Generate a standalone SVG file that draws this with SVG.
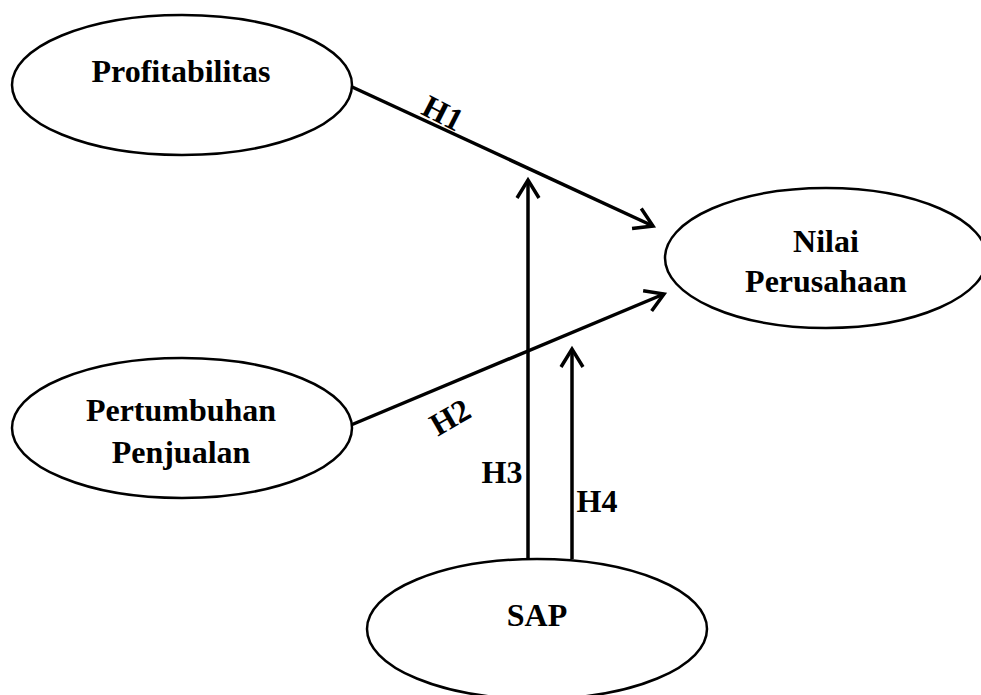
<svg xmlns="http://www.w3.org/2000/svg" width="981" height="695" viewBox="0 0 981 695">
<style>
.node ellipse{fill:#fff;stroke:#000;stroke-width:2.5}
.lbl{font-family:"Liberation Serif","Times New Roman",serif;font-weight:bold;font-size:32px;fill:#000;text-anchor:middle}
.edge{stroke:#000;stroke-width:3.5;fill:none}
</style>
<defs>
<marker id="arr" markerUnits="userSpaceOnUse" markerWidth="40" markerHeight="40" viewBox="-25 -20 40 40" refX="0" refY="0" orient="auto">
<path d="M-18,-11 L0,0 L-18,11" fill="none" stroke="#000" stroke-width="3.5" stroke-linejoin="miter"/>
</marker>
</defs>
<g id="connectors">
<line class="edge" x1="350" y1="86" x2="653" y2="226" marker-end="url(#arr)"/>
<line class="edge" x1="351" y1="425" x2="664" y2="294" marker-end="url(#arr)"/>
<line class="edge" x1="528" y1="561" x2="528" y2="180" marker-end="url(#arr)"/>
<line class="edge" x1="572" y1="559" x2="572" y2="349" marker-end="url(#arr)"/>
<text class="lbl" transform="translate(443,113) rotate(27)" dy="11">H1</text>
<text class="lbl" transform="translate(450,417) rotate(-30)" dy="11">H2</text>
<text class="lbl" x="502" y="483">H3</text>
<text class="lbl" x="597" y="512">H4</text>
</g>
<g id="profitabilitas" class="node">
<ellipse cx="182" cy="85" rx="170" ry="70"/>
<text class="lbl" x="181" y="82">Profitabilitas</text>
</g>
<g id="pertumbuhan" class="node">
<ellipse cx="182" cy="428" rx="170" ry="70"/>
<text class="lbl" x="181" y="421">Pertumbuhan</text>
<text class="lbl" x="181" y="463">Penjualan</text>
</g>
<g id="nilai" class="node">
<ellipse cx="826" cy="258" rx="161" ry="70"/>
<text class="lbl" x="826" y="252">Nilai</text>
<text class="lbl" x="826" y="292">Perusahaan</text>
</g>
<g id="sap" class="node">
<ellipse cx="537" cy="629" rx="170" ry="70"/>
<text class="lbl" x="537" y="626">SAP</text>
</g>
</svg>
